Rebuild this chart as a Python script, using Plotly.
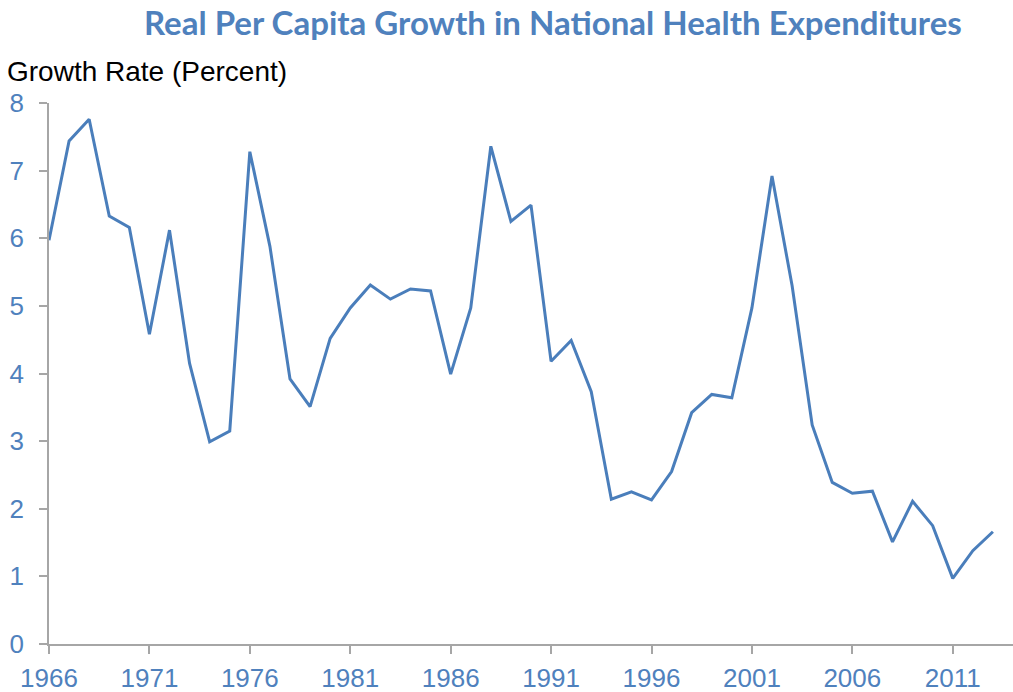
import plotly.graph_objects as go

years = list(range(1966, 2014))
growth = [5.97, 7.44, 7.76, 6.33, 6.16, 4.58, 6.12, 4.15, 2.99, 3.15,
          7.28, 5.88, 3.92, 3.51, 4.52, 4.97, 5.31, 5.10, 5.25, 5.22,
          3.99, 4.97, 7.36, 6.25, 6.49, 4.18, 4.49, 3.73, 2.14, 2.25,
          2.13, 2.55, 3.42, 3.69, 3.64, 4.97, 6.92, 5.30, 3.24, 2.39,
          2.23, 2.26, 1.51, 2.11, 1.75, 0.97, 1.38, 1.66]
x_ticks = list(range(1966, 2012, 5))
y_ticks = list(range(0, 9))

title_text = "Real Per Capita Growth in National Health Expenditures"
ylabel_text = "Growth Rate (Percent)"

W, H = 1013, 692
L, R, T, B = 49, 0, 103, 48
PW, PH = W - L - R, H - T - B


def px(x_page):
    return (x_page - L) / PW


def py(y_page):
    return 1 + (T - y_page) / PH


fig = go.Figure()
fig.add_trace(go.Scatter(x=years, y=growth, mode="lines",
                         line=dict(color="#4a7ebb", width=3),
                         hoverinfo="x+y", showlegend=False))

axis_color = "#a6a6a6"
tick_font = dict(family="Liberation Sans, Arial, sans-serif", size=26, color="#4f81bd")

fig.update_layout(
    width=W, height=H,
    margin=dict(l=L, r=R, t=T, b=B, pad=0),
    paper_bgcolor="white", plot_bgcolor="white",
    xaxis=dict(range=[1966, 2014], tickvals=x_ticks, showgrid=False, zeroline=False,
               showline=True, linecolor=axis_color, linewidth=1.5,
               ticks="outside", ticklen=8, tickcolor=axis_color, tickwidth=1.5,
               tickfont=tick_font, ticklabelstandoff=2),
    yaxis=dict(range=[0, 8], tickvals=y_ticks, showgrid=False, zeroline=False,
               showline=True, linecolor=axis_color, linewidth=1.5,
               ticks="outside", ticklen=8, tickcolor=axis_color, tickwidth=1.5,
               tickfont=tick_font, ticklabelstandoff=10),
    annotations=[
        dict(text="<b>" + title_text + "</b>", xref="paper", yref="paper",
             x=px(552.5), y=py(22),
             xanchor="center", yanchor="middle", showarrow=False,
             font=dict(family="Lato, Calibri, sans-serif", size=33, color="#4f81bd")),
        dict(text=ylabel_text, xref="paper", yref="paper",
             x=px(5), y=py(72),
             xanchor="left", yanchor="middle", showarrow=False,
             font=dict(family="Liberation Sans, Arial, sans-serif", size=28, color="black")),
    ],
)

fig.write_html("out.html",
               config={"displayModeBar": False},
               post_script="document.body.style.margin='0';document.body.style.padding='0';")
